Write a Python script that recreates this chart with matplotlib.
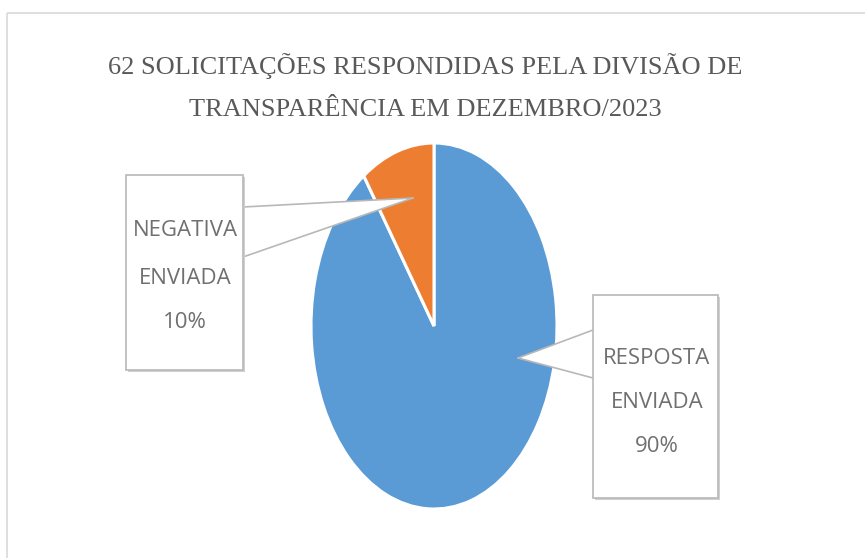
import matplotlib
matplotlib.use("Agg")
import matplotlib.pyplot as plt
from matplotlib.patches import Rectangle, Polygon

# ---- data ----
categories = ["RESPOSTA\nENVIADA", "NEGATIVA\nENVIADA"]
counts = [56, 6]
pct_labels = ["90%", "10%"]
colors = ["#5B9BD5", "#ED7D31"]
title_lines = ["62 SOLICITAÇÕES RESPONDIDAS PELA DIVISÃO DE",
               "TRANSPARÊNCIA EM DEZEMBRO/2023"]

W, H = 865, 558
fig = plt.figure(figsize=(W / 100, H / 100), dpi=100)
fig.patch.set_facecolor("white")

# pie axes (elliptical pie, as in the stretched reference)
pl, pr, pt, pb = 311, 557, 143, 509
pax = fig.add_axes([pl / W, 1 - pb / H, (pr - pl) / W, (pb - pt) / H])
pax.pie(counts, colors=colors, startangle=90, counterclock=False,
        wedgeprops=dict(edgecolor="white", linewidth=2.2))
pax.set_aspect("auto")
pax.set_xlim(-1, 1)
pax.set_ylim(-1, 1)
pax.axis("off")

# overlay axes in pixel coordinates
ax = fig.add_axes([0, 0, 1, 1], zorder=5)
ax.set_xlim(0, W)
ax.set_ylim(H, 0)
ax.axis("off")
ax.patch.set_alpha(0)

# chart frame
ax.add_patch(Rectangle((7, 13), 870, 560, fill=False, edgecolor="#d9d9d9", lw=1.2))

# title
ax.text(425, 66, title_lines[0], ha="center", va="center", fontsize=19,
        family=["Liberation Serif", "DejaVu Serif"], color="#595959")
ax.text(425, 110, title_lines[1], ha="center", va="center", fontsize=19,
        family=["Liberation Serif", "DejaVu Serif"], color="#595959")

edge = "#b8b8b8"
txtc = "#707070"
lab_font = ["Liberation Sans Narrow", "Open Sans", "DejaVu Sans"]

def callout(box, tri, text_x, text_ys, lines):
    x0, y0, x1, y1 = box
    # triangle pointer
    ax.add_patch(Polygon(tri, closed=True, facecolor="white", edgecolor="none", zorder=2))
    ax.plot([tri[0][0], tri[1][0]], [tri[0][1], tri[1][1]], color=edge, lw=1.2, zorder=3)
    ax.plot([tri[1][0], tri[2][0]], [tri[1][1], tri[2][1]], color=edge, lw=1.2, zorder=3)
    # shadow + box
    ax.add_patch(Rectangle((x0 + 2, y0 + 2), x1 - x0, y1 - y0, facecolor="#d0d0d0",
                           edgecolor="none", zorder=3))
    ax.add_patch(Rectangle((x0, y0), x1 - x0, y1 - y0, facecolor="white",
                           edgecolor=edge, lw=1.2, zorder=4))
    for ty, s in zip(text_ys, lines):
        ax.text(text_x, ty, s, ha="center", va="center", fontsize=16,
                family=lab_font, color=txtc, zorder=6)

# NEGATIVA callout
neg_lines = categories[1].split("\n") + [pct_labels[1]]
callout((126, 175, 243, 370), [(243, 207), (413, 198), (243, 257)],
        185, [230, 278, 323], neg_lines)

# RESPOSTA callout
res_lines = categories[0].split("\n") + [pct_labels[0]]
callout((593, 295, 718, 498), [(593, 330), (518, 358), (593, 378)],
        657, [358, 403, 446], res_lines)

fig.savefig("out.png", dpi=100, facecolor="white")
